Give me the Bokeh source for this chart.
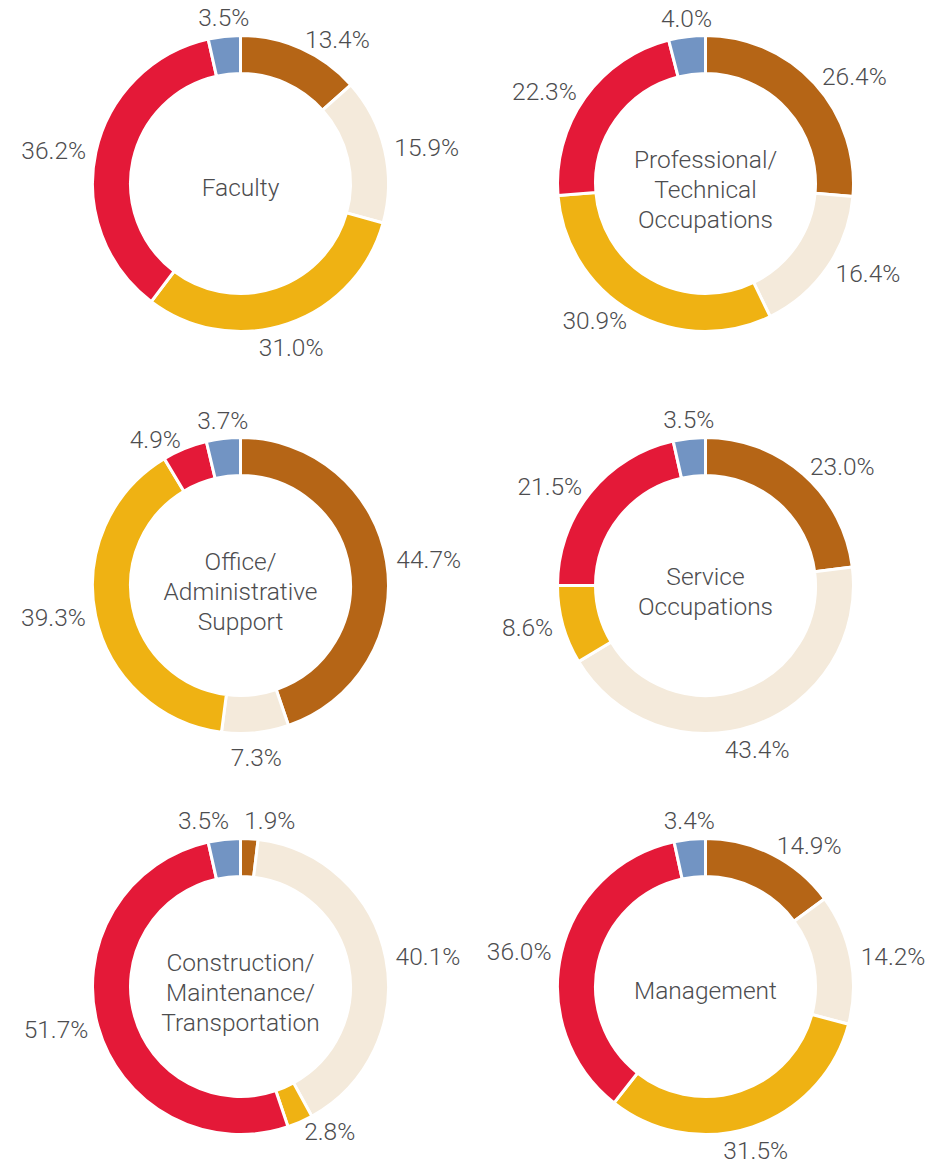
import math
from bokeh.plotting import figure
from bokeh.models import Range1d, ColumnDataSource
from bokeh.core.properties import value
from bokeh.embed import file_html
from bokeh.resources import INLINE

# ---------------- data ----------------
segments = ["Segment 1", "Segment 2", "Segment 3", "Segment 4", "Segment 5"]
colors = ["#B56516", "#F4EADB", "#EFB213", "#E41938", "#7294C3"]

titles = [
    "Faculty",
    "Professional/\nTechnical\nOccupations",
    "Office/\nAdministrative\nSupport",
    "Service\nOccupations",
    "Construction/\nMaintenance/\nTransportation",
    "Management",
]
faculty = [13.4, 15.9, 31.0, 36.2, 3.5]
professional = [26.4, 16.4, 30.9, 22.3, 4.0]
office = [44.7, 7.3, 39.3, 4.9, 3.7]
service = [23.0, 43.4, 8.6, 21.5, 3.5]
construction = [1.9, 40.1, 2.8, 51.7, 3.5]
management = [14.9, 14.2, 31.5, 36.0, 3.4]
series = [faculty, professional, office, service, construction, management]

# ---------------- layout ----------------
W, H = 929, 1165
col_x = [240, 705]
row_y = [183, 585, 986]
R_OUT, R_IN = 148, 110
LABEL_R = 158
LABEL_R_TOP = 152
FS = 24.5
TEXT_COLOR = "#4D4D4F"
FONT = "Roboto Light"

p = figure(width=W, height=H, x_range=Range1d(0, W), y_range=Range1d(0, H),
           x_axis_type=None, y_axis_type=None, output_backend="svg",
           toolbar_location=None, min_border=0)
p.grid.visible = False
p.outline_line_color = None
p.background_fill_color = "white"
p.border_fill_color = "white"

CHAR_W = {".": 0.27, "%": 0.74}


def text_width(s):
    return sum(CHAR_W.get(c, 0.56) for c in s) * FS


wedges = dict(x=[], y=[], start=[], end=[], color=[])
labels = []

for k, vals in enumerate(series):
    cx = col_x[k % 2]
    cy_page = row_y[k // 2]
    cy = H - cy_page
    total = sum(vals)
    cum = 0.0
    donut_labels = []
    for v, c in zip(vals, colors):
        f0 = cum / total
        f1 = (cum + v) / total
        cum += v
        wedges["x"].append(cx)
        wedges["y"].append(cy)
        wedges["start"].append(math.pi / 2 - 2 * math.pi * f0)
        wedges["end"].append(math.pi / 2 - 2 * math.pi * f1)
        wedges["color"].append(c)
        th = 2 * math.pi * (f0 + f1) / 2
        s, co = math.sin(th), math.cos(th)
        r = LABEL_R_TOP if (abs(s) <= 0.35 and co > 0) else LABEL_R
        ax = cx + r * s
        ay_page = cy_page - r * co
        txt = f"{v:.1f}%"
        w = text_width(txt)
        if s > 0.35:
            align, left = "left", ax
        elif s < -0.35:
            align, left = "right", ax - w
        else:
            align, left = "center", ax - w / 2
        if abs(s) <= 0.35:
            if co > 0:
                base, top = "bottom", ay_page - FS
            else:
                base, top = "top", ay_page
        else:
            base, top = "middle", ay_page - FS / 2
        donut_labels.append(dict(x=ax, yp=ay_page, text=txt, align=align,
                                 base=base, l=left, r=left + w, t=top, b=top + FS))
    # push apart overlapping labels horizontally
    for i in range(len(donut_labels)):
        for j in range(i + 1, len(donut_labels)):
            a, b = donut_labels[i], donut_labels[j]
            if a["l"] < b["r"] and b["l"] < a["r"] and a["t"] < b["b"] and b["t"] < a["b"]:
                ov = min(a["r"], b["r"]) - max(a["l"], b["l"]) + 14
                lo, hi = (a, b) if (a["l"] + a["r"]) < (b["l"] + b["r"]) else (b, a)
                for d, sh in ((lo, -ov / 2), (hi, ov / 2)):
                    d["x"] += sh
                    d["l"] += sh
                    d["r"] += sh
    labels.extend(donut_labels)

    # center title
    n_lines = titles[k].count("\n") + 1
    dy = -4 if n_lines == 1 else -6
    p.text(x=[cx], y=[cy + dy], text=[titles[k]], text_align="center",
           text_baseline="middle", text_font=value(FONT),
           text_font_size=f"{FS}px", text_color=TEXT_COLOR,
           text_line_height=1.03)

p.annular_wedge(x="x", y="y", inner_radius=R_IN, outer_radius=R_OUT,
                start_angle="start", end_angle="end", direction="clock",
                fill_color="color", line_color="white", line_width=3,
                source=ColumnDataSource(wedges))

groups = {}
for lb in labels:
    groups.setdefault((lb["align"], lb["base"]), []).append(lb)
for (align, base), items in groups.items():
    src = ColumnDataSource(dict(x=[d["x"] for d in items],
                                y=[H - d["yp"] for d in items],
                                text=[d["text"] for d in items]))
    p.text(x="x", y="y", text="text", source=src, text_align=align,
           text_baseline=base, text_font=value(FONT),
           text_font_size=f"{FS}px", text_color=TEXT_COLOR)

open("out.html", "w").write(file_html(p, INLINE))
